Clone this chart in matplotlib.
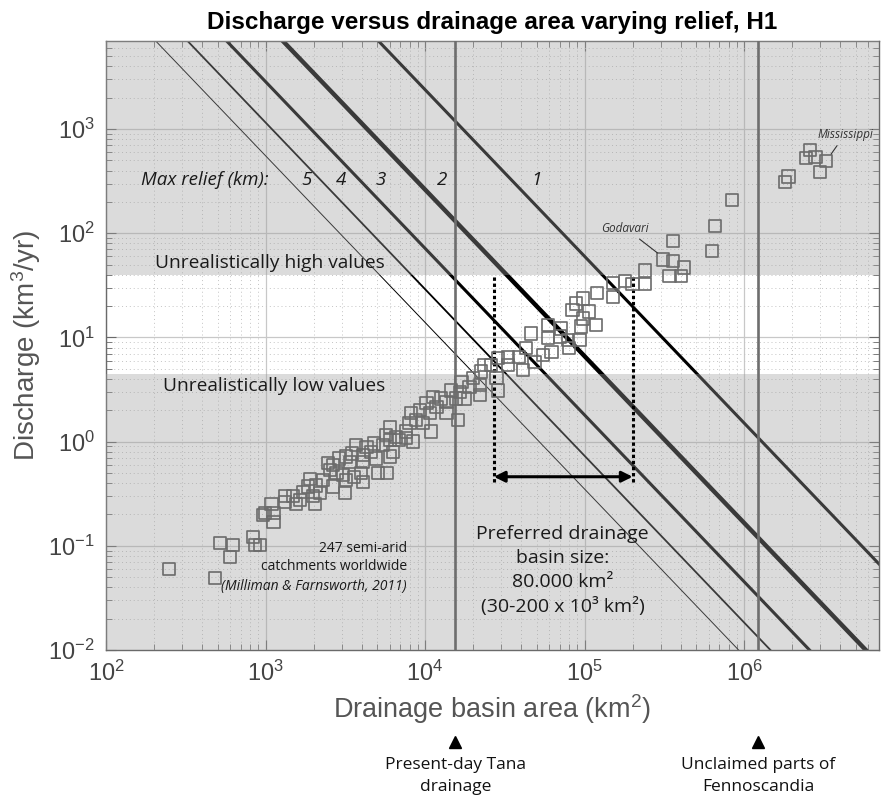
import numpy as np
import matplotlib.pyplot as plt
from matplotlib.ticker import LogLocator, NullFormatter

plt.rcParams['font.family'] = ['Liberation Sans', 'DejaVu Sans']
plt.rcParams['mathtext.fontset'] = 'custom'
plt.rcParams['mathtext.rm'] = 'Liberation Sans'
plt.rcParams['mathtext.it'] = 'Liberation Sans:italic'
plt.rcParams['mathtext.bf'] = 'Liberation Sans:bold'

# Semi-arid catchments (Milliman & Farnsworth, 2011)
area_km2 = [
    2.6e6, 2.45e6, 2.8e6, 3.25e6, 3.0e6, 1.9e6, 1.8e6, 8.4e5, 6.6e5, 6.3e5,
    3.6e5, 3.1e5, 3.6e5, 4.2e5, 2.4e5, 3.4e5, 4.0e5, 2.4e5, 2.0e5, 1.8e5,
    1.5e5, 1.2e5, 9.8e4, 1.5e5,
    1.18e5, 9.75e4, 8.4e4, 8.85e4, 1.07e5, 9.5e4, 7.1e4, 5.9e4, 4.6e4, 5.9e4,
    7.0e4, 7.85e4, 9.3e4, 8.0e4, 6.2e4, 5.5e4, 4.3e4, 3.9e4, 4.85e4, 3.3e4,
    2.86e4, 2.6e4, 3.3e4, 4.1e4, 2.8e4, 2.86e4, 2.36e4, 2.25e4, 2.0e4, 2.2e4,
    1.9e4, 1.69e4, 1.65e4, 1.77e4, 2.2e4, 1.46e4, 1.57e4, 1.36e4, 1.26e4, 1.12e4,
    1.18e4, 1.02e4, 1.07e4, 9.25e3, 8.2e3, 8.8e3, 8.0e3, 9.7e3, 1.09e4, 1.61e4,
    1.36e4, 6.0e3, 5.7e3, 6.9e3, 8.4e3, 7.6e3,
    6.6e3, 6.0e3, 7.6e3, 5.45e3, 4.8e3, 4.3e3, 4.6e3, 4.1e3, 3.7e3, 3.5e3,
    3.2e3, 2.9e3, 3.37e3, 4.1e3, 4.95e3, 6.0e3, 6.3e3, 2.65e3, 2.47e3, 2.79e3,
    2.53e3, 3.06e3, 3.98e3, 5.06e3, 4.1e3, 3.6e3, 3.2e3, 2.65e3, 2.3e3, 2.08e3,
    1.9e3, 1.85e3, 1.72e3, 2.19e3, 3.14e3, 1.99e3, 1.49e3, 1.32e3, 1.64e3, 2.04e3,
    1.56e3, 1.32e3, 1.09e3, 1.12e3, 1.12e3, 990, 966, 518, 627, 598,
    836, 857, 921, 481, 248, 5.8e3,
]
discharge_km3 = [
    630, 530, 540, 490, 390, 350, 310, 207, 118, 68,
    84, 56, 54, 47, 44, 39, 39, 32.5, 32.5, 35,
    33.5, 26.5, 23.7, 24.6,
    13.2, 15.2, 18.3, 21.2, 17.7, 12.7, 12.2, 13.2, 10.9, 9.8,
    10.2, 9.4, 9.4, 7.9, 7.3, 6.8, 7.9, 6.5, 5.8, 6.5,
    6.3, 5.4, 5.4, 4.9, 4.05, 3.1, 5.4, 4.7, 4.05, 3.5,
    3.37, 3.76, 3.0, 2.6, 2.8, 3.1, 2.6, 2.4, 2.6, 2.7,
    2.16, 2.33, 1.87, 2.0, 1.87, 1.61, 1.5, 1.5, 1.25, 1.61,
    1.87, 1.39, 1.16, 1.04, 1.0, 1.25,
    1.11, 1.04, 1.08, 0.93, 0.96, 0.89, 0.80, 0.74, 0.93, 0.77,
    0.72, 0.69, 0.64, 0.64, 0.69, 0.72, 0.80, 0.60, 0.62, 0.50,
    0.53, 0.48, 0.50, 0.50, 0.41, 0.46, 0.43, 0.37, 0.43, 0.38,
    0.44, 0.37, 0.33, 0.32, 0.32, 0.30, 0.30, 0.30, 0.275, 0.25,
    0.25, 0.265, 0.25, 0.205, 0.17, 0.205, 0.198, 0.106, 0.102, 0.0786,
    0.122, 0.102, 0.102, 0.049, 0.060, 0.50,
]

# Model lines Q = q_ref * (A / 1e5)^slope for each max relief
relief_km = [1, 2, 3, 4, 5]
q_at_1e5 = [60, 6.6, 1.8, 0.73, 0.35]
slope = -1.6
line_w = [2.2, 3.2, 2.2, 1.3, 0.7]

low_limit = 4.5      # km3/yr
high_limit = 40      # km3/yr
preferred_range = [2.7e4, 2.0e5]
arrow_q = 0.46
tana_area = 1.55e4
fenno_area = 1.23e6
godavari = (3.05e5, 60)
mississippi = (3.35e6, 520)

fig = plt.figure(figsize=(8.84, 7.98), dpi=100)
ax = fig.add_axes([0.1199, 0.1855, 0.8744, 0.7631])
ax.set_xscale('log')
ax.set_yscale('log')
ax.set_xlim(1e2, 7e6)
ax.set_ylim(1e-2, 7e3)

# grid
ax.set_axisbelow(True)
ax.xaxis.set_minor_locator(LogLocator(base=10, subs=np.arange(2, 10)))
ax.yaxis.set_minor_locator(LogLocator(base=10, subs=np.arange(2, 10)))
ax.xaxis.set_minor_formatter(NullFormatter())
ax.yaxis.set_minor_formatter(NullFormatter())
ax.grid(True, which='major', color='#c8c8c8', lw=0.9, ls='-')
ax.grid(True, which='minor', color='#c4c4c4', lw=0.7, ls=(0, (1, 3)))

# relief lines
A = np.logspace(2, 7.2, 300)
for q, w in zip(q_at_1e5, line_w):
    ax.plot(A, q * (A / 1e5) ** slope, color='k', lw=w, zorder=2)

# shaded unrealistic ranges (drawn over the lines)
ax.axhspan(1e-3, low_limit, color='0.62', alpha=0.37, lw=0, zorder=3)
ax.axhspan(high_limit, 1e5, color='0.62', alpha=0.37, lw=0, zorder=3)

# basin size reference lines
for a in [tana_area, fenno_area]:
    ax.axvline(a, color='#6e6e6e', lw=1.9, zorder=4)

# preferred basin size
for a in preferred_range:
    ax.plot([a, a], [0.41, high_limit], color='k', lw=2.2, ls=(0, (1.1, 0.9)), zorder=5)
ax.annotate('', xy=(preferred_range[1], arrow_q), xytext=(preferred_range[0], arrow_q),
            arrowprops=dict(arrowstyle='<|-|>', color='k', lw=2.2, mutation_scale=16,
                            shrinkA=0, shrinkB=0), zorder=5)

ax.scatter(area_km2, discharge_km3, marker='s', s=78, facecolors='none',
           edgecolors='#6b6b6b', linewidths=1.2, zorder=6)

# text
note = ['Open Sans', 'DejaVu Sans']
ax.text(203, 51.8, 'Unrealistically high values', fontsize=13.8, family=note,
        va='center', ha='left', color='#1a1a1a', zorder=7)
ax.text(228, 3.42, 'Unrealistically low values', fontsize=13.8, family=note,
        va='center', ha='left', color='#1a1a1a', zorder=7)
ax.text(166, 324, 'Max relief (km):', fontsize=13.5, family=note, style='italic',
        va='center', ha='left', color='#1a1a1a', zorder=7)
q_lab = 324
offsets = [18, 19, 15, 15, 13]
for r, q, off in zip(relief_km, q_at_1e5, offsets):
    a_line = 1e5 * (q_lab / q) ** (1 / slope)
    ax.annotate(str(r), xy=(a_line, q_lab), xytext=(off, 0), textcoords='offset points',
                fontsize=13.5, family=note, style='italic', va='center', ha='center',
                color='#1a1a1a', zorder=7)

ax.text(7.7e3, 0.095, '247 semi-arid', fontsize=10, family=note, ha='right',
        va='center', color='#1a1a1a', zorder=7)
ax.text(7.7e3, 0.0626, 'catchments worldwide', fontsize=10, family=note, ha='right',
        va='center', color='#1a1a1a', zorder=7)
ax.text(7.7e3, 0.0411, '(Milliman & Farnsworth, 2011)', fontsize=10, family=note,
        style='italic', ha='right', va='center', color='#1a1a1a', zorder=7)

ax.text(7.3e4, 0.058, 'Preferred drainage\nbasin size:\n80.000 km²\n(30-200 x 10³ km²)',
        fontsize=14, family=note, ha='center', va='center', linespacing=1.42,
        color='#1a1a1a', zorder=7)

ax.annotate('Godavari', xy=godavari, xytext=(1.8e5, 112), fontsize=8.5, family=note,
            style='italic', ha='center', va='center', color='#333333',
            arrowprops=dict(arrowstyle='-', color='#333333', lw=0.8, shrinkA=2, shrinkB=4),
            zorder=7)
ax.annotate('Mississippi', xy=mississippi, xytext=(4.3e6, 895), fontsize=8.5, family=note,
            style='italic', ha='center', va='center', color='#333333',
            arrowprops=dict(arrowstyle='-', color='#333333', lw=0.8, shrinkA=2, shrinkB=4),
            zorder=7)

# below-axis markers
xt = ax.get_xaxis_transform()
for a, label in [(tana_area, 'Present-day Tana\ndrainage'),
                 (fenno_area, 'Unclaimed parts of\nFennoscandia')]:
    ax.plot([a], [-0.151], marker='^', color='k', ms=9, transform=xt, clip_on=False)
    ax.text(a, -0.176, label, transform=xt, ha='center', va='top', fontsize=12.5,
            family=note, linespacing=1.5, color='#111111')

# axes styling
for s in ax.spines.values():
    s.set_color('#6a6a6a')
    s.set_linewidth(1.0)
ax.tick_params(which='both', direction='in', top=True, right=True, colors='#6a6a6a',
               labelcolor='#444444')
ax.tick_params(which='major', length=7, labelsize=17, pad=8)
ax.tick_params(which='minor', length=4)

ax.set_xlabel('Drainage basin area (km$^2$)', fontsize=19.5, color='#555555', labelpad=4)
ax.set_ylabel('Discharge (km$^3$/yr)', fontsize=20, color='#555555', labelpad=4)
ax.set_title('Discharge versus drainage area varying relief, H1', fontsize=17.5,
             fontweight='bold', color='k', pad=9)

fig.savefig('out.png', dpi=100)
